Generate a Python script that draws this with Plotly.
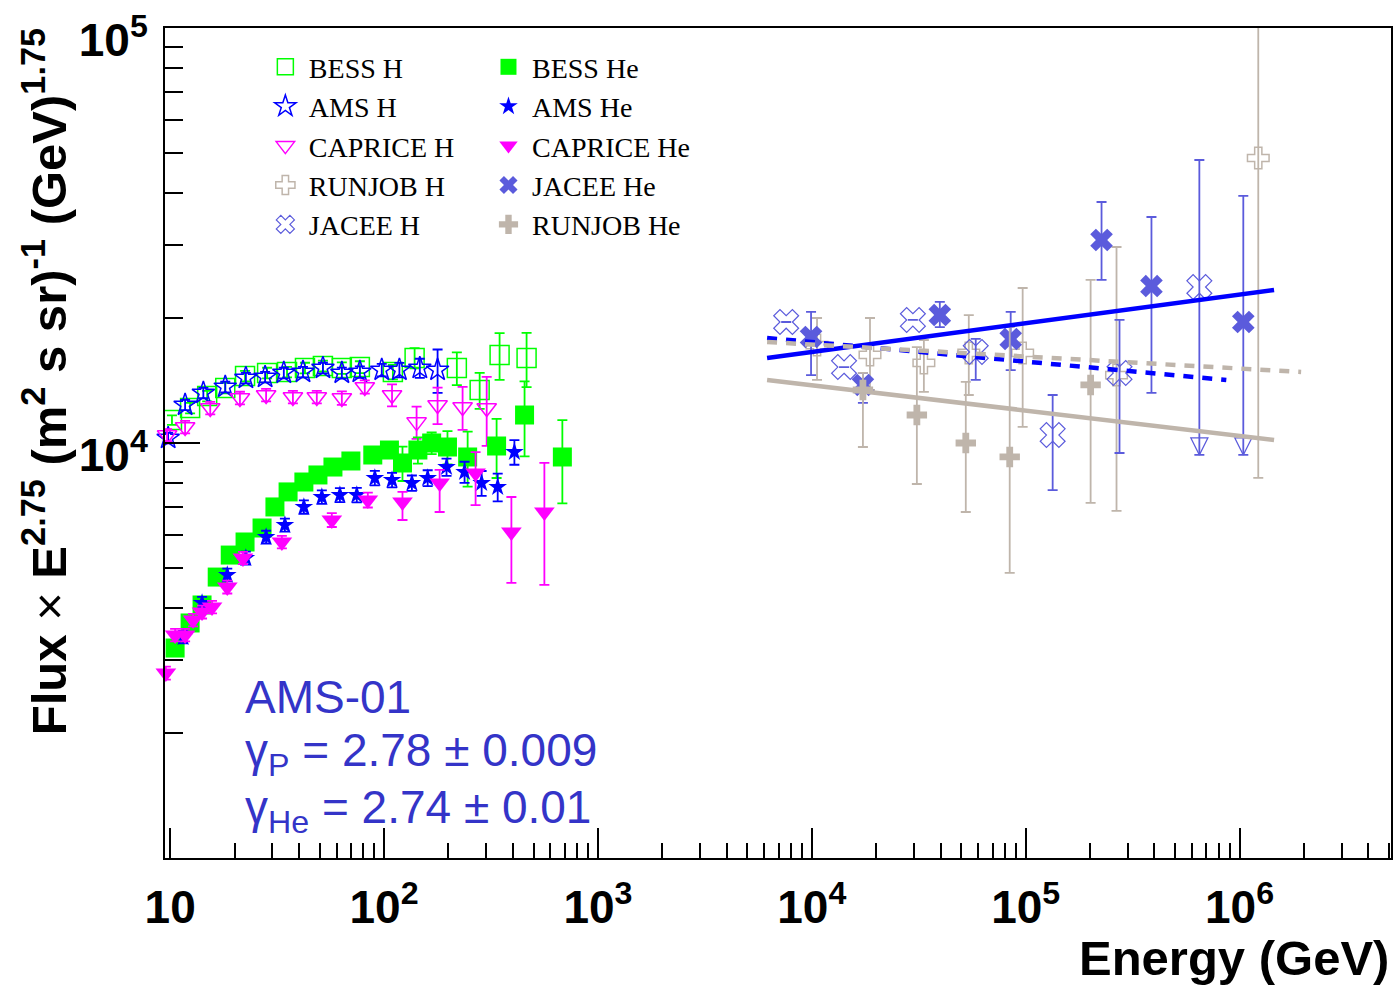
import plotly.graph_objects as go

# ---------------- data ----------------
bess_h_E = [10.2, 12.4, 14.9, 18.1, 22.4, 28.4, 35.2, 42.7, 51.8, 63.5, 77.1, 110, 139, 219, 280, 347, 464]
bess_h_F = [11360, 12140, 12980, 13570, 14500, 14750, 14830, 15160, 15330, 15160, 15240, 14830, 16030, 15160, 13420, 16300, 16030]
bess_h_err = [300, 350, 380, 400, 420, 430, 430, 450, 460, 480, 500, 600, 900, 1370, 1340, 2100, 2400]

ams_h_E = [9.79, 11.75, 14.3, 18.1, 22.6, 27.8, 34.0, 41.8, 51.8, 63.5, 77.1, 97.6, 118, 147, 178]
ams_h_F = [10280, 12350, 13200, 13650, 14340, 14420, 14750, 14830, 15160, 14750, 14830, 15000, 15000, 15160, 15000]
ams_h_err = [300, 350, 380, 400, 420, 420, 430, 430, 450, 450, 470, 520, 600, 800, 1800]

caprice_h_E = [9.68, 11.75, 15.4, 21.2, 28.1, 37.5, 48.5, 63.5, 81.3, 109, 142, 178, 233, 302]
caprice_h_F = [10450, 10930, 12140, 12840, 13050, 12910, 12910, 12840, 13650, 13050, 11230, 12350, 12210, 12140]
caprice_h_err = [350, 380, 420, 450, 450, 450, 450, 480, 500, 800, 1000, 1250, 1450, 2300]

bess_he_E = [10.55, 12.4, 14.1, 16.6, 19.1, 22.4, 26.9, 30.9, 35.6, 42.2, 49.1, 57.7, 70, 88.6, 106, 122, 144, 167, 198, 246, 336, 454, 682]
bess_he_F = [3206, 3684, 4071, 4753, 5370, 5774, 6240, 7013, 7623, 8054, 8375, 8752, 9050, 9356, 9618, 8950, 9618, 10000, 9780, 9253, 9835, 11680, 9253]
bess_he_err = [110, 120, 130, 150, 170, 180, 200, 220, 240, 250, 260, 280, 300, 330, 400, 850, 700, 600, 900, 1400, 1600, 2400, 2100]

ams_he_E = [11.5, 14.1, 18.5, 22.6, 28.1, 34.4, 42.2, 51.2, 62.2, 74.6, 90.6, 109, 135, 160, 196, 238, 286, 340, 407]
ams_he_F = [3408, 4117, 4808, 5284, 5935, 6345, 7013, 7410, 7494, 7494, 8236, 8146, 8010, 8236, 8752, 8513, 8010, 7834, 9513]
ams_he_err = [120, 140, 170, 190, 210, 230, 260, 280, 290, 300, 330, 330, 340, 360, 420, 500, 550, 600, 650]

caprice_he_E = [9.55, 10.55, 11.75, 12.8, 14.1, 15.7, 18.5, 21.9, 33.3, 57.0, 84.0, 122, 182, 268, 394, 562]
caprice_he_F = [2791, 3446, 3446, 3746, 3917, 4025, 4498, 5284, 5774, 6524, 7292, 7213, 8010, 8467, 6102, 6821]
caprice_he_up = [100, 120, 120, 130, 140, 140, 160, 180, 200, 250, 300, 410, 600, 1040, 1310, 2130]
caprice_he_dn = [100, 120, 120, 130, 140, 140, 160, 180, 200, 250, 300, 690, 1190, 1380, 1500, 2270]

jacee_h_E = [7590, 14150, 29690, 58410, 133700, 274600, 648600]
jacee_h_F = [19570, 15240, 19790, 16570, 10450, 14750, 23760]
jacee_h_up = [0, 0, 0, 1240, 2600, 5040, 24320]
jacee_h_dn = [0, 0, 0, 2380, 2750, 5290, 14400]

jacee_he_E = [9920, 17340, 39680, 85110, 226300, 387300, 1041000]
jacee_he_F = [18010, 13800, 20340, 17810, 30840, 23890, 19570]
jacee_he_up = [2680, 950, 1530, 2880, 7240, 11150, 19810]
jacee_he_dn = [3430, 1310, 1310, 2820, 6130, 10690, 10210]

# lower-limit arrows of the two last JACEE error bars
arrow_E = [648600, 1041000]
arrow_F = [9360, 9360]

runjob_h_E = [10580, 18710, 33420, 54200, 96800, 265900, 1223000]
runjob_h_F = [17220, 16300, 15590, 16480, 16480, 14580, 48610]
runjob_h_up = [2790, 3710, 2120, 3860, 7150, 15090, 60000]
runjob_h_dn = [3030, 2880, 2310, 3430, 5550, 7720, 40370]

runjob_he_E = [17340, 30990, 52480, 84200, 201200]
runjob_he_F = [13420, 11680, 10000, 9254, 13800]
runjob_he_up = [1330, 5350, 4030, 9780, 10910]
runjob_he_dn = [3640, 3715, 3180, 4390, 6630]

# power-law fit lines (end points)
fit_blue_solid_E = [6180, 1450000]
fit_blue_solid_F = [16030, 23370]
fit_blue_dash_E = [6180, 867000]
fit_blue_dash_F = [17910, 14190]
fit_tan_dash_E = [6180, 1940000]
fit_tan_dash_F = [17510, 14830]
fit_tan_solid_E = [6180, 1450000]
fit_tan_solid_F = [14190, 10170]

x_major = [10, 1e2, 1e3, 1e4, 1e5, 1e6]
x_major_text = ["10", "10<sup>2</sup>", "10<sup>3</sup>", "10<sup>4</sup>", "10<sup>5</sup>", "10<sup>6</sup>"]
y_major = [1e4, 99999]
y_major_text = ["10<sup>4</sup>", "10<sup>5</sup>"]

# ---------------- styles ----------------
GREEN = "#00ff00"
BLUE = "#0000ff"
MAGENTA = "#ff00ff"
TAN = "#bfb5ab"
JAC = "#5b5bdc"

fig = go.Figure()


def add_pts(name, E, F, up, dn, color, symbol, size, legend, rank, open_sym=False, clip=True, lw=1.5):
    fig.add_trace(go.Scatter(
        x=E, y=F, mode="markers", name=name,
        marker=dict(symbol=symbol, size=size, color=color,
                    line=dict(width=lw if open_sym else 0, color=color)),
        error_y=dict(type="data", array=up, arrayminus=dn, color=color,
                     thickness=1.8, width=5, symmetric=False),
        legend=legend, legendrank=rank, cliponaxis=clip,
    ))


add_pts("BESS H", bess_h_E, bess_h_F, bess_h_err, bess_h_err, GREEN, "square-open", 19, "legend", 1, True)
add_pts("AMS H", ams_h_E, ams_h_F, ams_h_err, ams_h_err, BLUE, "star-open", 17, "legend", 2, True, False)
add_pts("CAPRICE H", caprice_h_E, caprice_h_F, caprice_h_err, caprice_h_err, MAGENTA, "triangle-down-open", 17, "legend", 3, True, False)
add_pts("RUNJOB H", runjob_h_E, runjob_h_F, runjob_h_up, runjob_h_dn, TAN, "cross-open", 18, "legend", 4, True)
add_pts("JACEE H", jacee_h_E, jacee_h_F, jacee_h_up, jacee_h_dn, JAC, "x-open", 22, "legend", 5, True, lw=1.2)

add_pts("BESS He", bess_he_E, bess_he_F, bess_he_err, bess_he_err, GREEN, "square", 19, "legend2", 1)
add_pts("AMS He", ams_he_E, ams_he_F, ams_he_err, ams_he_err, BLUE, "star", 14, "legend2", 2)
add_pts("CAPRICE He", caprice_he_E, caprice_he_F, caprice_he_up, caprice_he_dn, MAGENTA, "triangle-down", 18, "legend2", 3, clip=False)
add_pts("JACEE He", jacee_he_E, jacee_he_F, jacee_he_up, jacee_he_dn, JAC, "x", 20, "legend2", 4)
add_pts("RUNJOB He", runjob_he_E, runjob_he_F, runjob_he_up, runjob_he_dn, TAN, "cross", 17, "legend2", 5)

fig.add_trace(go.Scatter(x=arrow_E, y=arrow_F, mode="markers", showlegend=False,
                         marker=dict(symbol="arrow-down-open", size=17, color=JAC,
                                     line=dict(width=1.3, color=JAC))))

for E, F, col, dash in [
    (fit_blue_solid_E, fit_blue_solid_F, BLUE, "solid"),
    (fit_blue_dash_E, fit_blue_dash_F, BLUE, "10px,9px"),
    (fit_tan_dash_E, fit_tan_dash_F, TAN, "10px,9px"),
    (fit_tan_solid_E, fit_tan_solid_F, TAN, "solid"),
]:
    fig.add_trace(go.Scatter(x=E, y=F, mode="lines", showlegend=False,
                             line=dict(color=col, width=4.5, dash=dash)))

minor_x = [m * 10 ** d for d in range(0, 7) for m in range(2, 10)]
minor_y = [m * 10 ** d for d in range(3, 5) for m in range(2, 10)]

tickfont = dict(family="Liberation Sans", size=46, color="black", weight="bold")

fig.update_xaxes(
    type="log", range=[0.976, 6.708],
    tickmode="array", tickvals=x_major, ticktext=x_major_text,
    ticks="inside", ticklen=30, tickwidth=2, tickcolor="black",
    minor=dict(tickmode="array", tickvals=minor_x, ticks="inside", ticklen=15, tickwidth=1.5, tickcolor="black", showgrid=False),
    showline=True, linecolor="black", linewidth=2, mirror=True,
    showgrid=False, zeroline=False, tickfont=tickfont, ticklabelstandoff=8,
)
fig.update_yaxes(
    type="log", range=[3, 5],
    tickmode="array", tickvals=y_major, ticktext=y_major_text,
    ticks="inside", ticklen=35, tickwidth=2, tickcolor="black",
    minor=dict(tickmode="array", tickvals=minor_y, ticks="inside", ticklen=18, tickwidth=1.5, tickcolor="black", showgrid=False),
    showline=True, linecolor="black", linewidth=2, mirror=True,
    showgrid=False, zeroline=False, tickfont=tickfont, ticklabelstandoff=6,
    ticklabelshift=12, ticklabeloverflow="allow",
)

legfont = dict(family="Liberation Serif", size=28, color="black")
fig.update_layout(
    width=1398, height=985,
    margin=dict(l=165, r=5, t=28, b=127),
    paper_bgcolor="white", plot_bgcolor="white",
    legend=dict(x=0.079, y=0.983, xanchor="left", yanchor="top", font=legfont,
                bgcolor="rgba(0,0,0,0)", tracegroupgap=0, itemwidth=37),
    legend2=dict(x=0.261, y=0.983, xanchor="left", yanchor="top", font=legfont,
                 bgcolor="rgba(0,0,0,0)", tracegroupgap=0, itemwidth=37),
)

TXT = "#3434c8"
ams_font = dict(family="Liberation Sans", size=46, color=TXT)
for txt, yp in [("AMS-01", 0.194),
                ("γ<sub>P</sub> = 2.78 ± 0.009", 0.126),
                ("γ<sub>He</sub> = 2.74 ± 0.01", 0.0574)]:
    fig.add_annotation(text=txt, xref="paper", yref="paper", x=0.0635, y=yp,
                       xanchor="left", yanchor="middle", showarrow=False, font=ams_font)

fig.add_annotation(text="<b>Energy (GeV)</b>", xref="paper", yref="paper", x=1.0, y=-0.1205,
                   xanchor="right", yanchor="middle", showarrow=False,
                   font=dict(family="Liberation Sans", size=49, color="black"))
fig.add_annotation(text="<b>Flux</b> × <b>E<sup>2.75</sup> (m<sup>2</sup> s sr)<sup>-1</sup> (GeV)<sup>1.75</sup></b>",
                   xref="paper", yref="paper", x=-0.0977, y=0.5735, textangle=-90,
                   xanchor="center", yanchor="middle", showarrow=False,
                   font=dict(family="Liberation Sans", size=49, color="black"))

fig.write_html("out.html")
